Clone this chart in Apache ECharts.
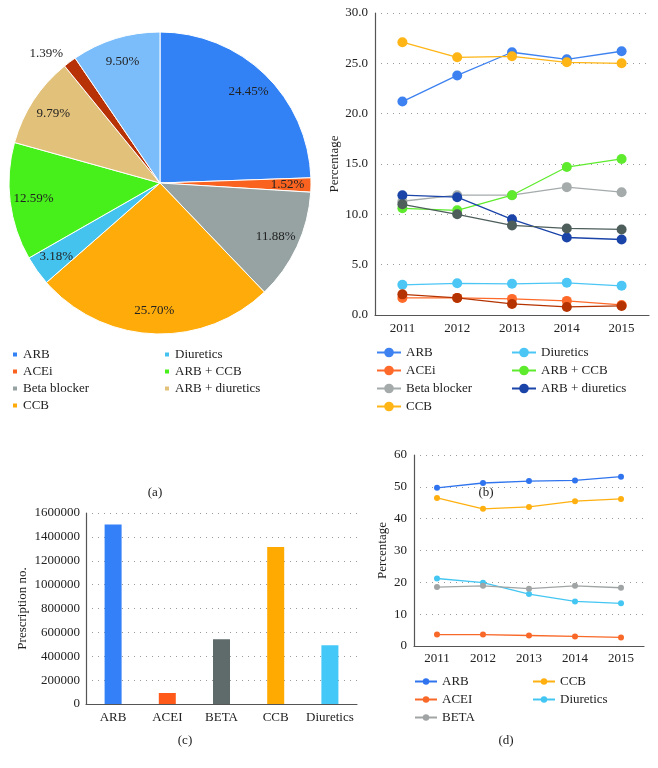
<!DOCTYPE html>
<html><head><meta charset="utf-8">
<script src="https://cdn.jsdelivr.net/npm/echarts@6/dist/echarts.min.js"></script>
<style>html,body{margin:0;padding:0;background:#fff}#c{width:658px;height:768px}</style>
</head><body><div id="c"></div>
<script>
// ---------- DATA ----------
const pieNames = ['ARB','ACEi','Beta blocker','CCB','Diuretics','ARB + CCB','ARB + diuretics','Other A','Other B'];
const pieValues = [24.45,1.52,11.88,25.70,3.18,12.59,9.79,1.39,9.50];
const pieColors = ['#3282F6','#F9631F','#97A3A3','#FFAC0A','#44C3EF','#47F01A','#E2C17A','#B83208','#7BBDFA'];

const years = ['2011','2012','2013','2014','2015'];
const bNames = ['ARB','ACEi','Beta blocker','CCB','Diuretics','ARB + CCB','ARB + diuretics','Other A','Other B'];
const bARB   = [21.2,23.8,26.1,25.4,26.2];
const bACEi  = [1.7,1.7,1.6,1.4,1.0];
const bBeta  = [11.3,11.9,11.9,12.7,12.2];
const bCCB   = [27.1,25.6,25.7,25.1,25.0];
const bDiur  = [3.0,3.15,3.1,3.2,2.9];
const bArbCcb = [10.6,10.4,11.9,14.7,15.5];
const bArbDiur = [11.9,11.7,9.5,7.7,7.5];
const bOtherA = [2.05,1.7,1.1,0.8,0.9];
const bOtherB = [11.0,10.0,8.9,8.6,8.5];
const bColors = ['#3D82F0','#FF6A2A','#A5ABAB','#FFB515','#4BC6F5','#5EEB2E','#1B44A8','#B53300','#4D5E5B'];
const bTicks = [0,5,10,15,20,25,30];

const barCats = ['ARB','ACEI','BETA','CCB','Diuretics'];
const barValues = [1503000, 92000, 543000, 1316000, 493000];
const barColors = ['#3380F8','#FF5A1A','#5F6B6B','#FFAA00','#44C8F8'];

const dNames = ['ARB','CCB','ACEI','Diuretics','BETA'];
const dARB  = [49.7,51.2,51.8,52.0,53.2];
const dCCB  = [46.5,43.1,43.7,45.5,46.2];
const dACEI = [3.6,3.6,3.3,3.0,2.7];
const dDiur = [21.2,19.9,16.3,14.0,13.4];
const dBETA = [18.5,18.9,18.0,18.9,18.3];
const dColors = ['#2F74EE','#FFB010','#F86828','#44C6F2','#A0A4A4'];

// ---------- BUILD ----------
const F = 'Liberation Serif';
const txt = {fontFamily:F, fontSize:13, color:'#222'};
const strip = n => n.slice(2);
const bData = [bARB,bACEi,bBeta,bCCB,bDiur,bArbCcb,bArbDiur,bOtherA,bOtherB];
const dData = [dARB,dCCB,dACEI,dDiur,dBETA];

const gridLine = {show:true, lineStyle:{color:'#9a9a9a', type:[1,5], width:1}};
const axLine = {show:true, lineStyle:{color:'#555', width:1.2}};

const series = [];
// main pie
series.push({
  type:'pie', center:[160,183], radius:[0,151], startAngle:90, clockwise:true,
  silent:true, label:{show:false}, labelLine:{show:false},
  itemStyle:{borderColor:'#fff', borderWidth:1},
  data: pieNames.map((n,i)=>({name:'a:'+n, value:pieValues[i], itemStyle:{color:pieColors[i]}}))
});
// label overlay (inside)
series.push({
  type:'pie', center:[160,183], radius:[98,151], startAngle:90, silent:true,
  itemStyle:{color:'rgba(0,0,0,0)'}, labelLine:{show:false},
  label:{show:true, position:'inside', formatter:p=>pieValues[p.dataIndex].toFixed(2)+'%', ...txt},
  data: pieValues.map((v,i)=>({name:'o'+i, value:v, label:{show:i!==7}}))
});
// label overlay (outside small slice)
series.push({
  type:'pie', center:[160,183], radius:[140,178], startAngle:90, silent:true,
  itemStyle:{color:'rgba(0,0,0,0)'}, labelLine:{show:false},
  label:{show:true, position:'inside', padding:[0,34,0,0], formatter:p=>pieValues[p.dataIndex].toFixed(2)+'%', ...txt},
  data: pieValues.map((v,i)=>({name:'p'+i, value:v, label:{show:i===7}}))
});
// (b) lines
bNames.forEach((n,i)=>{
  series.push({type:'line', name:'b:'+n, xAxisIndex:0, yAxisIndex:0, data:bData[i],
    symbol:'circle', symbolSize:10, color:bColors[i], lineStyle:{width:1.3, color:bColors[i]},
    itemStyle:{color:bColors[i]}, silent:true, z: 2+i});
});
// (c) bars
series.push({type:'bar', xAxisIndex:1, yAxisIndex:1, barWidth:17, silent:true,
  data: barValues.map((v,i)=>({value:v, itemStyle:{color:barColors[i]}}))});
// (d) lines
dNames.forEach((n,i)=>{
  series.push({type:'line', name:'d:'+n, xAxisIndex:2, yAxisIndex:2, data:dData[i],
    symbol:'circle', symbolSize:6, color:dColors[i], lineStyle:{width:1.3, color:dColors[i]},
    itemStyle:{color:dColors[i]}, silent:true});
});

const legBase = {orient:'vertical', textStyle:{...txt}, formatter:strip, selectedMode:false, padding:0};

const option = {
  animation:false,
  textStyle:{fontFamily:F},
  grid:[
    {left:375, top:13, width:274, height:302},
    {left:86, top:513, width:271, height:191},
    {left:414, top:455, width:230, height:191}
  ],
  xAxis:[
    {gridIndex:0, type:'category', data:years, axisLine:axLine, axisTick:{show:false}, axisLabel:{...txt, margin:7, interval:0}},
    {gridIndex:1, type:'category', data:barCats, axisLine:axLine, axisTick:{show:false}, axisLabel:{...txt, margin:7, interval:0}},
    {gridIndex:2, type:'category', data:years, axisLine:axLine, axisTick:{show:false}, axisLabel:{...txt, margin:6, interval:0}}
  ],
  yAxis:[
    {gridIndex:0, type:'value', min:bTicks[0], max:bTicks[bTicks.length-1], interval:5,
      axisLine:axLine, axisTick:{show:false}, splitLine:gridLine,
      axisLabel:{...txt, margin:7, formatter:v=>v.toFixed(1)},
      name:'Percentage', nameLocation:'middle', nameGap:30, nameTextStyle:{...txt}},
    {gridIndex:1, type:'value', min:0, max:1600000, interval:200000,
      axisLine:axLine, axisTick:{show:false}, splitLine:gridLine,
      axisLabel:{...txt, margin:6, formatter:v=>String(v)},
      name:'Prescription no.', nameLocation:'middle', nameGap:57, nameTextStyle:{...txt}},
    {gridIndex:2, type:'value', min:0, max:60, interval:10,
      axisLine:axLine, axisTick:{show:false}, splitLine:gridLine,
      axisLabel:{...txt, margin:7},
      name:'Percentage', nameLocation:'middle', nameGap:25, nameTextStyle:{...txt}}
  ],
  legend:[
    {...legBase, left:11, top:348, itemWidth:6, itemHeight:6, itemGap:4, icon:'rect',
      data: pieNames.slice(0,4).map(n=>'a:'+n)},
    {...legBase, left:163, top:348, itemWidth:6, itemHeight:6, itemGap:4, icon:'rect',
      data: pieNames.slice(4,7).map(n=>'a:'+n)},
    {...legBase, left:376, top:346, itemWidth:24, itemHeight:12, itemGap:5,
      data: bNames.slice(0,4).map(n=>'b:'+n)},
    {...legBase, left:511, top:346, itemWidth:24, itemHeight:12, itemGap:5,
      data: bNames.slice(4,7).map(n=>'b:'+n)},
    {...legBase, left:414, top:675, itemWidth:22, itemHeight:8, itemGap:5,
      data: ['d:ARB','d:ACEI','d:BETA']},
    {...legBase, left:532, top:675, itemWidth:22, itemHeight:8, itemGap:5,
      data: ['d:CCB','d:Diuretics']}
  ],
  graphic:[
    {type:'text', x:155, y:493, style:{text:'(a)', font:'13px '+F, fill:'#222', textAlign:'center', textVerticalAlign:'middle'}},
    {type:'text', x:486, y:493, style:{text:'(b)', font:'13px '+F, fill:'#222', textAlign:'center', textVerticalAlign:'middle'}},
    {type:'text', x:185, y:741, style:{text:'(c)', font:'13px '+F, fill:'#222', textAlign:'center', textVerticalAlign:'middle'}},
    {type:'text', x:506, y:741, style:{text:'(d)', font:'13px '+F, fill:'#222', textAlign:'center', textVerticalAlign:'middle'}}
  ],
  series
};
const chart = echarts.init(document.getElementById('c'), null, {renderer:'canvas'});
chart.setOption(option);
</script></body></html>
